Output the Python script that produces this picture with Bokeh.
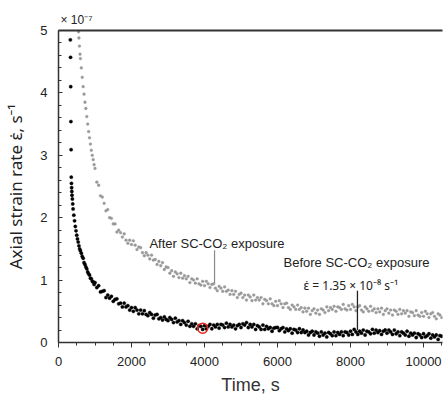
from bokeh.plotting import figure
from bokeh.models import (ColumnDataSource, LinearAxis, SingleIntervalTicker, FixedTicker,
                          Label, Range1d)
from bokeh.embed import file_html
from bokeh.resources import INLINE

# ---------------- data (strain rate in units of 1e-7 s^-1, time in s) ----------------
before_t_early = [325, 330, 335, 340, 345, 350, 355, 360, 365, 370, 380, 390, 400, 420, 440,
                  460, 480, 500, 520, 540, 560, 580, 600, 625, 650, 675, 700, 725, 750, 775,
                  800, 825, 850, 875, 900, 925, 950, 975]
before_v_early = [4.85, 4.57, 4.10, 3.54, 3.09, 2.65, 2.55, 2.48, 2.42, 2.36, 2.30, 2.22, 2.14,
                  2.04, 1.95, 1.86, 1.79, 1.72, 1.66, 1.61, 1.55, 1.50, 1.47, 1.43, 1.38, 1.35,
                  1.28, 1.25, 1.21, 1.18, 1.13, 1.10, 1.08, 1.03, 1.02, 0.98, 0.97, 0.93]
before_v_late = [
    0.96, 0.88, 0.91, 0.81, 0.82, 0.83, 0.72, 0.76, 0.71, 0.74, 0.66, 0.69, 0.70, 0.62, 0.63, 0.57, 0.63, 0.57, 0.59, 0.52,
    0.56, 0.50, 0.56, 0.52, 0.46, 0.52, 0.46, 0.51, 0.45, 0.43, 0.48, 0.45, 0.39, 0.44, 0.45, 0.38, 0.40, 0.36, 0.41, 0.37,
    0.35, 0.40, 0.37, 0.32, 0.39, 0.33, 0.35, 0.29, 0.35, 0.32, 0.28, 0.34, 0.26, 0.30, 0.26, 0.30, 0.22, 0.27, 0.26, 0.21,
    0.27, 0.22, 0.26, 0.29, 0.22, 0.28, 0.25, 0.29, 0.23, 0.29, 0.28, 0.24, 0.31, 0.25, 0.29, 0.25, 0.28, 0.22, 0.27, 0.29,
    0.24, 0.30, 0.28, 0.32, 0.24, 0.29, 0.25, 0.29, 0.21, 0.27, 0.25, 0.21, 0.28, 0.21, 0.26, 0.22, 0.24, 0.18, 0.23, 0.24,
    0.24, 0.19, 0.22, 0.24, 0.17, 0.22, 0.19, 0.22, 0.15, 0.21, 0.20, 0.16, 0.22, 0.16, 0.20, 0.16, 0.18, 0.12, 0.16, 0.18,
    0.12, 0.17, 0.15, 0.10, 0.17, 0.12, 0.15, 0.09, 0.16, 0.14, 0.11, 0.17, 0.11, 0.16, 0.13, 0.17, 0.11, 0.17, 0.16, 0.12,
    0.18, 0.13, 0.21, 0.17, 0.13, 0.18, 0.15, 0.20, 0.12, 0.18, 0.17, 0.14, 0.21, 0.15, 0.20, 0.16, 0.19, 0.13, 0.18, 0.20,
    0.15, 0.20, 0.17, 0.13, 0.20, 0.14, 0.17, 0.11, 0.17, 0.15, 0.12, 0.18, 0.10, 0.15, 0.12, 0.15, 0.08, 0.14, 0.12, 0.08,
    0.14, 0.09, 0.11, 0.14, 0.07, 0.12, 0.09, 0.12, 0.05, 0.11, 0.10]

after_t_early = [550, 560, 575, 590, 600, 625, 650, 675, 700, 725, 750, 775, 800, 825, 850,
                 875, 900, 925, 950, 975]
after_v_early = [4.98, 4.88, 4.75, 4.62, 4.55, 4.40, 4.25, 4.10, 3.98, 3.85, 3.75, 3.62, 3.50,
                 3.38, 3.28, 3.18, 3.08, 3.00, 2.93, 2.85]
after_v_late = [
    2.79, 2.57, 2.52, 2.35, 2.33, 2.23, 2.11, 2.13, 2.00, 1.99, 1.90, 1.90, 1.77, 1.80, 1.76, 1.69, 1.74, 1.64, 1.59, 1.64,
    1.57, 1.63, 1.56, 1.49, 1.53, 1.52, 1.44, 1.39, 1.44, 1.40, 1.34, 1.40, 1.32, 1.33, 1.25, 1.30, 1.23, 1.28, 1.17, 1.21,
    1.20, 1.11, 1.15, 1.06, 1.13, 1.10, 1.04, 1.11, 1.03, 1.07, 1.02, 1.06, 0.96, 1.02, 1.00, 0.95, 1.02, 0.94, 0.92, 0.98,
    0.91, 0.98, 0.94, 0.88, 0.93, 0.94, 0.87, 0.83, 0.90, 0.87, 0.82, 0.89, 0.82, 0.84, 0.77, 0.83, 0.77, 0.82, 0.72, 0.77,
    0.79, 0.72, 0.76, 0.68, 0.76, 0.73, 0.67, 0.76, 0.68, 0.72, 0.68, 0.72, 0.62, 0.69, 0.67, 0.62, 0.70, 0.62, 0.59, 0.66,
    0.59, 0.67, 0.62, 0.56, 0.62, 0.63, 0.56, 0.53, 0.60, 0.57, 0.53, 0.60, 0.53, 0.56, 0.49, 0.55, 0.50, 0.55, 0.45, 0.51,
    0.54, 0.47, 0.52, 0.45, 0.54, 0.52, 0.48, 0.57, 0.51, 0.56, 0.53, 0.58, 0.50, 0.57, 0.56, 0.53, 0.61, 0.54, 0.52, 0.59,
    0.53, 0.61, 0.57, 0.51, 0.57, 0.59, 0.52, 0.49, 0.57, 0.54, 0.50, 0.58, 0.51, 0.54, 0.48, 0.54, 0.49, 0.55, 0.45, 0.51,
    0.54, 0.47, 0.52, 0.44, 0.52, 0.50, 0.45, 0.53, 0.46, 0.51, 0.47, 0.51, 0.42, 0.49, 0.48, 0.43, 0.51, 0.44, 0.42, 0.48,
    0.42, 0.50, 0.46, 0.40, 0.46, 0.48, 0.42, 0.38, 0.46, 0.44, 0.40]

late_t = list(range(1000, 10501, 50))

marked_t = [3950]
marked_v = [0.23]

before_t = before_t_early + late_t
before_v = before_v_early + before_v_late
after_t = after_t_early + late_t
after_v = after_v_early + after_v_late

FONT = "Liberation Sans"
EFONT = "Noto Sans"
TXT = "#222222"
AX = "#333333"

p = figure(width=446, height=400, output_backend="svg", toolbar_location=None,
           x_range=Range1d(0, 10520), y_range=Range1d(0, 5),
           min_border_left=58, min_border_right=4, min_border_top=30, min_border_bottom=58,
           x_axis_location=None, y_axis_location=None)
p.outline_line_color = None
p.xgrid.visible = False
p.ygrid.visible = False
p.background_fill_color = "white"

p.title.text = "× 10⁻⁷"
p.title.align = "left"
p.title.text_font = FONT
p.title.text_font_size = "12px"
p.title.text_font_style = "normal"
p.title.text_color = TXT
p.title.standoff = 8
p.title.offset = 2

# left axis
ya = LinearAxis(ticker=SingleIntervalTicker(interval=1, num_minor_ticks=5),
                axis_label="Axial strain rate ε̇, s⁻¹")
ya.major_tick_in = 4
ya.major_tick_out = 0
ya.minor_tick_in = 3
ya.minor_tick_out = 0
ya.major_label_standoff = 11
ya.axis_label_standoff = 10
ya.axis_line_color = AX
ya.axis_line_width = 1.5
ya.major_tick_line_color = AX
ya.minor_tick_line_color = AX
ya.major_label_text_font = FONT
ya.major_label_text_font_size = "13px"
ya.major_label_text_color = TXT
ya.axis_label_text_font = EFONT
ya.axis_label_text_font_size = "17px"
ya.axis_label_text_font_style = "normal"
ya.axis_label_text_color = TXT
p.add_layout(ya, "left")

# bottom axis
xa = LinearAxis(ticker=SingleIntervalTicker(interval=2000, num_minor_ticks=4),
                axis_label="Time, s")
xa.major_tick_in = 0
xa.major_tick_out = 5
xa.minor_tick_in = 0
xa.minor_tick_out = 3
xa.major_label_standoff = 9
xa.axis_label_standoff = 6
xa.axis_line_color = AX
xa.axis_line_width = 1.5
xa.major_tick_line_color = AX
xa.minor_tick_line_color = AX
xa.major_label_text_font = FONT
xa.major_label_text_font_size = "13px"
xa.major_label_text_color = TXT
xa.axis_label_text_font = FONT
xa.axis_label_text_font_size = "18px"
xa.axis_label_text_font_style = "normal"
xa.axis_label_text_color = "#333333"
p.add_layout(xa, "below")

# top border line
ta = LinearAxis(ticker=FixedTicker(ticks=[]))
ta.major_tick_in = 0
ta.major_tick_out = 0
ta.minor_tick_in = 0
ta.minor_tick_out = 0
ta.major_label_standoff = 0
ta.axis_line_color = AX
ta.axis_line_width = 2
p.add_layout(ta, "above")

# data
src_after = ColumnDataSource(dict(t=after_t, v=after_v))
src_before = ColumnDataSource(dict(t=before_t, v=before_v))
p.scatter("t", "v", source=src_after, marker="circle", size=2.8,
          fill_color="#999999", line_color="#999999", line_width=0.4)
p.scatter("t", "v", source=src_before, marker="circle", size=3.3,
          fill_color="#000000", line_color="#000000", line_width=0.4)

p.scatter(marked_t, marked_v, marker="circle", size=10, fill_color=None,
          line_color="#e8231f", line_width=1.5)

# annotation leader lines
p.segment(x0=[4275], y0=[0.95], x1=[4275], y1=[1.48], line_color="#8a8a8a", line_width=1.2)
p.segment(x0=[8190], y0=[0.20], x1=[8190], y1=[0.83], line_color="#222222", line_width=1.3)

p.add_layout(Label(x=2490, y=1.58, text="After SC-CO₂ exposure", text_font=FONT,
                   text_font_size="13px", text_color=TXT, text_baseline="alphabetic"))
p.add_layout(Label(x=6165, y=1.276, text="Before SC-CO₂ exposure", text_font=FONT,
                   text_font_size="13px", text_color=TXT, text_baseline="alphabetic"))
p.add_layout(Label(x=6713, y=0.92, text="ε̇ = 1.35 × 10⁻⁸ s⁻¹", text_font=EFONT,
                   text_font_size="12px", text_color=TXT, text_baseline="alphabetic"))

open("out.html", "w").write(file_html(p, INLINE))
